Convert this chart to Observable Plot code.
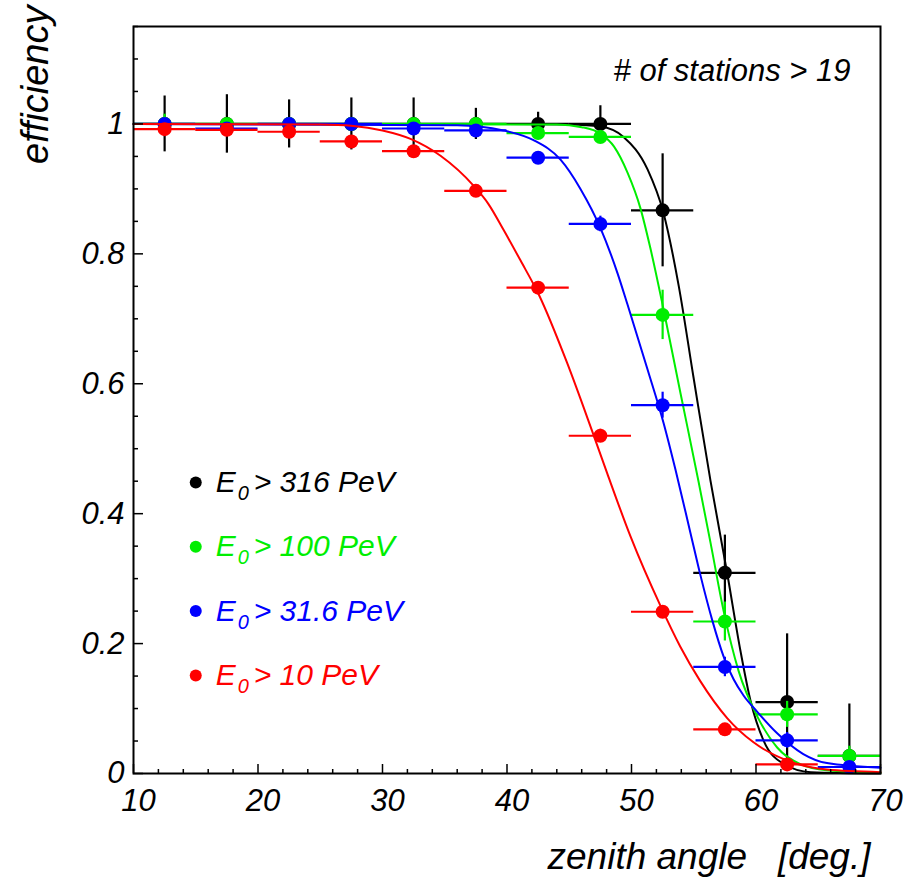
<!DOCTYPE html>
<html><head><meta charset="utf-8">
<script src="https://cdn.jsdelivr.net/npm/d3@7"></script>
<script src="https://cdn.jsdelivr.net/npm/@observablehq/plot@0.6"></script>
<style>html,body{margin:0;padding:0;background:#fff;}</style>
</head><body><div id="chart"></div>
<script>
// ---- data ----
const xCenters = [12.5, 17.5, 22.5, 27.5, 32.5, 37.5, 42.5, 47.5, 52.5, 57.5, 62.5, 67.5];
const binHalfWidth = 2.5;

const eff316 = [1.0, 1.0, 1.0, 1.0, 1.0, 1.0, 1.0, 1.0, 0.867, 0.309, 0.110, 0.027];
const err316 = [0.043, 0.045, 0.037, 0.040, 0.040, 0.024, 0.018, 0.028, 0.087, 0.058, 0.105, 0.080];
const eff100 = [1.0, 1.0, 1.0, 1.0, 1.0, 1.0, 0.986, 0.980, 0.706, 0.234, 0.091, 0.027];
const err100 = [0.015, 0.006, 0.005, 0.005, 0.005, 0.005, 0.006, 0.010, 0.038, 0.030, 0.020, 0.015];
const eff31 = [1.0, 0.993, 1.0, 1.0, 0.993, 0.990, 0.948, 0.846, 0.567, 0.164, 0.051, 0.010];
const err31 = [0.004, 0.004, 0.004, 0.004, 0.004, 0.004, 0.006, 0.012, 0.020, 0.015, 0.012, 0.005];
const eff10 = [0.992, 0.991, 0.988, 0.973, 0.958, 0.897, 0.748, 0.520, 0.249, 0.068, 0.014];
const err10 = [0.003, 0.003, 0.003, 0.004, 0.004, 0.005, 0.007, 0.010, 0.008, 0.006, 0.004];

// fitted curves
const fit316X = [10, 40, 45, 47.5, 49.36, 51.29, 52.57, 53.8, 54.98, 56.35, 57.68, 58.75, 59.56, 60.6, 62.2, 64.4, 70];
const fit316Y = [1, 1, 0.999, 0.996, 0.98, 0.93, 0.863, 0.75, 0.61, 0.45, 0.309, 0.189, 0.112, 0.051, 0.015, 0.002, 0];
const fit100X = [10, 44, 46, 47.5, 48.6, 49.68, 50.72, 51.5, 52.57, 53.94, 55.38, 56.35, 57.4, 58.6, 60.1, 61.7, 63.6, 65.7, 70];
const fit100Y = [1, 0.999, 0.995, 0.985, 0.965, 0.925, 0.87, 0.81, 0.715, 0.585, 0.45, 0.355, 0.25, 0.158, 0.088, 0.040, 0.014, 0.005, 0.001];
const fit31X = [10, 36, 39.72, 42.13, 44.3, 45.9, 47.5, 48.88, 49.68, 51.29, 52.57, 53.53, 54.74, 55.54, 56.5, 57.4, 58.2, 59.0, 60.1, 61.7, 63.8, 65.7, 70];
const fit31Y = [1, 0.998, 0.99, 0.975, 0.945, 0.9, 0.84, 0.77, 0.722, 0.622, 0.54, 0.468, 0.37, 0.305, 0.235, 0.18, 0.145, 0.12, 0.095, 0.062, 0.030, 0.016, 0.009];
const fit10X = [10, 25, 27.67, 30, 32.25, 34.66, 37.31, 38.5, 39.72, 41.08, 42.56, 44.83, 46.84, 48.05, 49.92, 52.33, 53.9, 55.5, 57.7, 59.8, 62.5, 65.7, 70];
const fit10Y = [1, 0.999, 0.997, 0.99, 0.977, 0.951, 0.905, 0.877, 0.837, 0.79, 0.737, 0.632, 0.527, 0.462, 0.365, 0.258, 0.196, 0.143, 0.085, 0.048, 0.020, 0.006, 0.002];

const seriesNames = ["316 PeV", "100 PeV", "31.6 PeV", "10 PeV"];
const seriesColors = ["#000000", "#00ee00", "#0000ff", "#ff0000"];

const xTicks = [10, 20, 30, 40, 50, 60, 70];
const yTicks = [0, 0.2, 0.4, 0.6, 0.8, 1];
const yTickLabels = ["0", "0.2", "0.4", "0.6", "0.8", "1"];
const xLabel = "zenith angle   [deg.]";
const yLabel = "efficiency";
const annotation = "# of stations > 19";

// ---- layout ----
const W = 924, H = 882;
const mTop = 26, mRight = 44, mBottom = 109, mLeft = 133;
const frameW = W - mLeft - mRight;
const frameH = H - mTop - mBottom;
const font = "'Liberation Sans', Arial, Helvetica, sans-serif";

const series = [
  {values: eff316, errs: err316, fitX: fit316X, fitY: fit316Y},
  {values: eff100, errs: err100, fitX: fit100X, fitY: fit100Y},
  {values: eff31, errs: err31, fitX: fit31X, fitY: fit31Y},
  {values: eff10, errs: err10, fitX: fit10X, fitY: fit10Y}
].map((s, k) => ({...s, name: seriesNames[k], color: seriesColors[k]}));

const xMinor = d3.range(10, 70.001, 2).filter(v => Math.abs(v % 10) > 1e-6);
const yMinor = d3.range(0, 1.1501, 0.05).map(v => +v.toFixed(2)).filter(v => Math.abs((v * 5) - Math.round(v * 5)) > 1e-6);

const marks = [];

series.forEach(s => {
  const pts = s.values.map((v, i) => ({x: xCenters[i], y: v, e: s.errs[i]}));
  const fit = s.fitX.map((x, i) => ({x, y: s.fitY[i]}));
  marks.push(Plot.ruleY(pts, {y: "y", x1: d => d.x - binHalfWidth, x2: d => d.x + binHalfWidth, stroke: s.color, strokeWidth: 2.2}));
  marks.push(Plot.ruleX(pts, {x: "x", y1: d => Math.max(0, d.y - d.e), y2: d => d.y + d.e, stroke: s.color, strokeWidth: 2.2}));
  marks.push(Plot.dot(pts, {x: "x", y: "y", r: 7, fill: s.color, stroke: "none"}));
  marks.push(Plot.line(fit, {x: "x", y: "y", stroke: s.color, strokeWidth: 2, curve: "monotone-x"}));
});

// legend inside the frame
const legendX = 15, legendTop = 0.448, legendStep = 0.099;
series.forEach((s, k) => {
  const row = [{x: legendX, y: legendTop - k * legendStep}];
  marks.push(Plot.dot(row, {x: "x", y: "y", r: 6, fill: s.color}));
  marks.push(Plot.text(row, {x: "x", y: "y", text: () => "E", dx: 20, textAnchor: "start", fill: s.color, fontSize: 30, fontStyle: "italic"}));
  marks.push(Plot.text(row, {x: "x", y: "y", text: () => "0", dx: 42, dy: 11, textAnchor: "start", fill: s.color, fontSize: 20, fontStyle: "italic"}));
  marks.push(Plot.text(row, {x: "x", y: "y", text: () => "> " + s.name, dx: 58, textAnchor: "start", fill: s.color, fontSize: 30, fontStyle: "italic"}));
});

// ticks (inward)
marks.push(Plot.tickX(xMinor, {x: d => d, insetTop: frameH - 4, stroke: "black", strokeWidth: 1.5}));
marks.push(Plot.tickX(xTicks, {x: d => d, insetTop: frameH - 9, stroke: "black", strokeWidth: 1.5}));
marks.push(Plot.tickY(yMinor, {y: d => d, insetRight: frameW - 5, stroke: "black", strokeWidth: 1.5}));
marks.push(Plot.tickY(yTicks, {y: d => d, insetRight: frameW - 10, stroke: "black", strokeWidth: 1.5}));

marks.push(Plot.frame({stroke: "black", strokeWidth: 2}));

marks.push(Plot.axisX(xTicks, {anchor: "bottom", tickSize: 0, tickPadding: 15, dx: 5, fontSize: 31, fontStyle: "italic", label: null, tickFormat: d => String(d)}));
marks.push(Plot.axisY(yTicks, {anchor: "left", tickSize: 0, tickPadding: 9, fontSize: 31, fontStyle: "italic", label: null, tickFormat: (d, i) => yTickLabels[i]}));

marks.push(Plot.text([xLabel], {text: d => d, frameAnchor: "bottom-right", dx: -10, dy: 95, textAnchor: "end", lineAnchor: "bottom", fontSize: 37, fontStyle: "italic", fill: "black"}));
marks.push(Plot.text([yLabel], {text: d => d, frameAnchor: "top-left", dx: -86, dy: -21, rotate: -90, textAnchor: "end", lineAnchor: "bottom", fontSize: 38, fontStyle: "italic", fill: "black"}));
marks.push(Plot.text([annotation], {text: d => d, frameAnchor: "top-right", dx: -30, dy: 54, textAnchor: "end", lineAnchor: "bottom", fontSize: 31, fontStyle: "italic", fill: "black"}));

const chart = Plot.plot({
  width: W, height: H,
  marginTop: mTop, marginRight: mRight, marginBottom: mBottom, marginLeft: mLeft,
  x: {domain: [10, 70]},
  y: {domain: [0, 1.15]},
  style: {fontFamily: font, background: "white", color: "black", overflow: "visible"},
  marks
});
document.getElementById("chart").appendChild(chart);
</script>
</body></html>
